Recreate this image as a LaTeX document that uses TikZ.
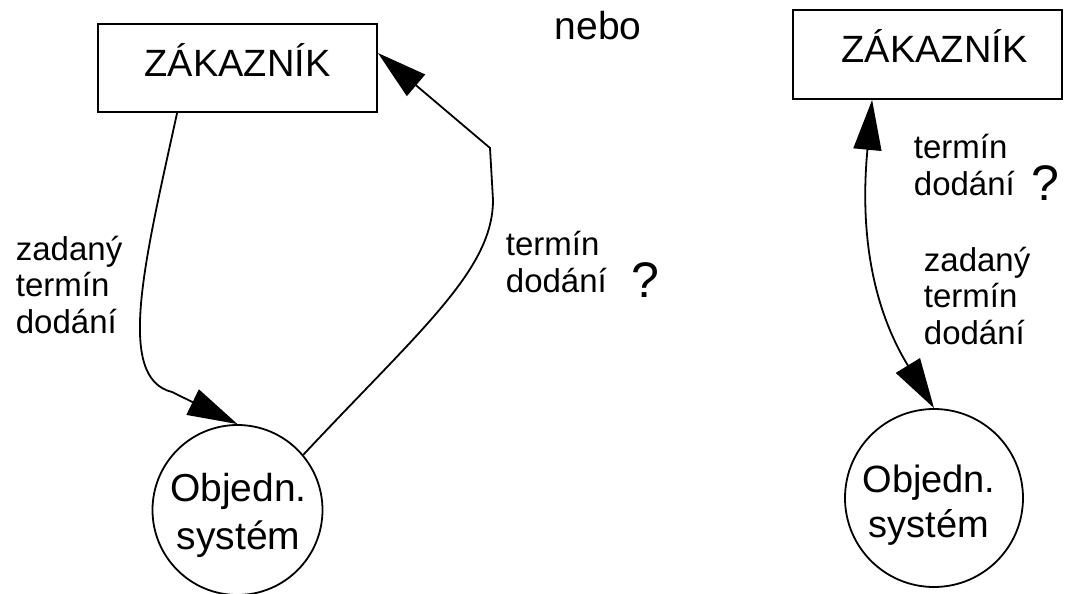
\documentclass[tikz,border=0pt]{standalone}
\usepackage{fontspec}
\setmainfont{Liberation Sans}
\usetikzlibrary{arrows.meta,calc}
\begin{document}
\begin{tikzpicture}[x=1pt,y=-1pt, line width=1.8pt,
  lbl/.style={font=\fontsize{33}{36.5}\selectfont, align=left, anchor=base west, inner sep=0pt},
  qmark/.style={font=\fontsize{50}{50}\selectfont, anchor=base west, inner sep=0pt},
  boxnode/.style={draw, rectangle, inner sep=0pt, font=\fontsize{38}{38}\selectfont, text height=29pt, text depth=11pt},
  circnode/.style={draw, circle, inner sep=0pt},
  ctext/.style={inner sep=0pt, align=center},
  tip/.style={-{Triangle[length=50pt,width=28pt]}},
  tips/.style={{Triangle[length=50pt,width=28pt]}-{Triangle[length=50pt,width=28pt]}}]
\useasboundingbox (0,0) rectangle (1066,594);
\fill[white] (0,0) rectangle (1066,594);

% left diagram
\node[boxnode, minimum width=279pt, minimum height=88pt] (zak1) at (237.5,68) {ZÁKAZNÍK};
\node[circnode, minimum size=170pt] (obj1) at (237.5,510) {};
\node[ctext, font=\fontsize{39}{48}\selectfont] (obj1t) at (238.5,515) {Objedn.\\systém};

\coordinate (s1) at ($(zak1.south west)+(80,0)$);
\draw[tip] (s1) .. controls (145,260) and (115,378) .. (172,392) -- (obj1.north);
\draw[tip] (obj1.40) .. controls (420,330) and (493,270) .. (493,200) -- (490,148) -- ([yshift=15pt]zak1.east);

\node[lbl] (l1) at (15,333) {zadaný\\termín\\dodání};
\node[lbl] (l2) at (505,292) {termín\\dodání};
\node[qmark] (q1) at (631,297) {?};
\node[font=\fontsize{39}{39}\selectfont, anchor=base west, inner sep=0pt] (nebo) at (554,40) {nebo};

% right diagram
\node[boxnode, minimum width=269pt, minimum height=89pt, text height=29pt, text depth=12pt] (zak2) at (927.5,54.5) {\hspace*{14pt}ZÁKAZNÍK};
\node[circnode, minimum size=178pt] (obj2) at (934,498) {};
\node[ctext, font=\fontsize{38}{45}\selectfont] (obj2t) at (929,505) {Objedn.\\systém};

\coordinate (s2) at ($(zak2.south west)+(80,0)$);
\draw[tips] (s2) .. controls (858,250) and (880,320) .. (obj2.north);

\node[lbl] (r1) at (913,195) {termín\\dodání};
\node[qmark] (q2) at (1031,200) {?};
\node[lbl] (r2) at (923,344) {zadaný\\termín\\dodání};
\end{tikzpicture}
\end{document}
